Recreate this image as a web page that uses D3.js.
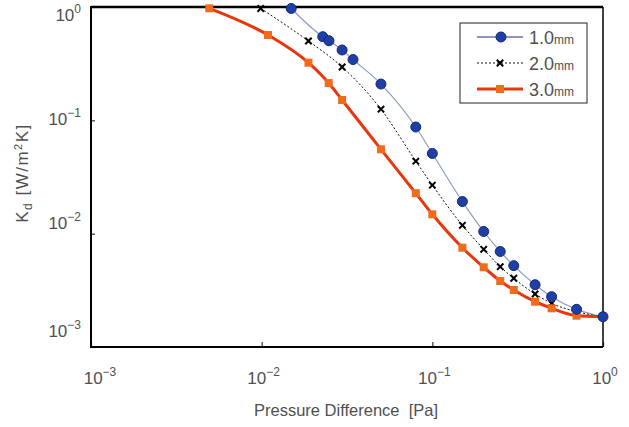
<!DOCTYPE html>
<html>
<head>
<meta charset="utf-8">
<script src="https://cdn.jsdelivr.net/npm/d3@7"></script>
<style>
  html, body { margin: 0; padding: 0; background: #fff; }
  svg { display: block; font-family: "Liberation Sans", Arial, sans-serif; }
</style>
</head>
<body>
<svg id="chart" width="629" height="427"></svg>
<script>
// ---- data ----
const seriesNames = ["1.0", "2.0", "3.0"];
const seriesUnit = "mm";
const x1 = [0.0149, 0.0228, 0.0248, 0.0296, 0.0343, 0.05, 0.08, 0.1, 0.15, 0.2, 0.25, 0.3, 0.4, 0.5, 0.7, 1.0];
const y1 = [0.97, 0.547, 0.504, 0.4175, 0.344, 0.209, 0.0873, 0.051, 0.0192, 0.01045, 0.00696, 0.00522, 0.003545, 0.00278, 0.00215, 0.00185];
const x2 = [0.00987, 0.0188, 0.0296, 0.05, 0.08, 0.1, 0.15, 0.2, 0.25, 0.3, 0.4, 0.5, 0.7, 1.0];
const y2 = [0.97, 0.501, 0.2955, 0.1254, 0.0436, 0.0268, 0.01185, 0.00728, 0.00511, 0.00404, 0.002935, 0.00243, 0.00205, 0.00185];
const x3 = [0.00493, 0.0109, 0.0188, 0.0247, 0.0296, 0.05, 0.08, 0.1, 0.15, 0.2, 0.25, 0.3, 0.4, 0.5, 0.7, 1.0];
const y3 = [0.974, 0.566, 0.3224, 0.2131, 0.1511, 0.0555, 0.02275, 0.01482, 0.00752, 0.00505, 0.003823, 0.003184, 0.00251, 0.002195, 0.00189, 0.00185];
const xTickExps = [-3, -2, -1, 0];
const yTickExps = [-3, -2, -1, 0];
const xTitle = "Pressure Difference  [Pa]";

// ---- layout ----
const svg = d3.select("#chart");
const L = 91, R = 603, T = 7, B = 347;
const x = d3.scaleLog().domain([1e-3, 1]).range([L, R]);
const y = d3.scaleLog().domain([1e-3, 1]).range([B, T]);
const textColor = "#505050";

// ticks (inner)
const gx = svg.append("g").attr("transform", `translate(0,${B})`)
  .call(d3.axisBottom(x).tickValues(xTickExps.map(e => Math.pow(10, e))).tickSize(-5).tickFormat(""));
const gy = svg.append("g").attr("transform", `translate(${L},0)`)
  .call(d3.axisLeft(y).tickValues(yTickExps.map(e => Math.pow(10, e))).tickSize(-4).tickFormat(""));
[gx, gy].forEach(g => {
  g.select(".domain").remove();
  g.selectAll(".tick line").attr("stroke", "#333").attr("stroke-width", 1.2);
});

// frame
svg.append("line").attr("x1", L).attr("x2", R).attr("y1", T).attr("y2", T).attr("stroke", "#000").attr("stroke-width", 2.5);
svg.append("line").attr("x1", R).attr("x2", R).attr("y1", T).attr("y2", B).attr("stroke", "#000").attr("stroke-width", 1.5);
svg.append("line").attr("x1", L).attr("x2", R).attr("y1", B).attr("y2", B).attr("stroke", "#000").attr("stroke-width", 2);
svg.append("line").attr("x1", L).attr("x2", L).attr("y1", T - 1).attr("y2", B + 1).attr("stroke", "#000").attr("stroke-width", 2);

// tick labels
xTickExps.forEach(e => {
  const t = svg.append("text").attr("x", x(Math.pow(10, e)) + (e === -3 ? 9 : 2)).attr("y", 384)
    .attr("text-anchor", "middle").attr("fill", textColor).attr("font-size", 17);
  t.append("tspan").text("10");
  t.append("tspan").attr("dy", -8).attr("font-size", 12).text(String(e).replace("-", "\u2212"));
});
const yLabelOffsets = { "0": 14, "-1": 5, "-2": -5, "-3": -10 };
yTickExps.forEach(e => {
  const t = svg.append("text").attr("x", 81).attr("y", y(Math.pow(10, e)) + yLabelOffsets[String(e)])
    .attr("text-anchor", "end").attr("fill", textColor).attr("font-size", 17);
  t.append("tspan").text("10");
  t.append("tspan").attr("dy", -8).attr("font-size", 12).text(String(e).replace("-", "\u2212"));
});

// axis titles
svg.append("text").attr("x", 346).attr("y", 416).attr("text-anchor", "middle")
  .attr("fill", textColor).attr("font-size", 16.5).attr("xml:space", "preserve").style("white-space", "pre").text(xTitle);
const yt = svg.append("text").attr("transform", "translate(28,173) rotate(-90)")
  .attr("text-anchor", "middle").attr("fill", textColor).attr("font-size", 17).attr("letter-spacing", 1.5);
yt.append("tspan").text("K");
yt.append("tspan").attr("dy", 4).attr("font-size", 12).text("d");
yt.append("tspan").attr("dy", -4).text(" [W/m");
yt.append("tspan").attr("dy", -6).attr("font-size", 11).text("2");
yt.append("tspan").attr("dy", 6).text("K]");

// series
const line = d3.line().x(d => x(d[0])).y(d => y(d[1])).curve(d3.curveMonotoneX);
const d1 = x1.map((v, i) => [v, y1[i]]);
const d2 = x2.map((v, i) => [v, y2[i]]);
const d3d = x3.map((v, i) => [v, y3[i]]);

svg.append("path").datum(d1).attr("d", line).attr("fill", "none").attr("stroke", "#8c9cc0").attr("stroke-width", 1.2);
svg.append("path").datum(d2).attr("d", line).attr("fill", "none").attr("stroke", "#111").attr("stroke-width", 1).attr("stroke-dasharray", "2,2");
svg.append("path").datum(d3d).attr("d", line).attr("fill", "none").attr("stroke", "#e8360e").attr("stroke-width", 3);

function circleMarker(g, cx, cy) {
  g.append("circle").attr("cx", cx).attr("cy", cy).attr("r", 5).attr("fill", "#1d3fa6").attr("stroke", "#13287a").attr("stroke-width", 1);
}
function crossMarker(g, cx, cy) {
  const s = 3.2;
  g.append("path").attr("d", `M${cx - s},${cy - s}L${cx + s},${cy + s}M${cx - s},${cy + s}L${cx + s},${cy - s}`)
    .attr("stroke", "#000").attr("stroke-width", 2);
}
function squareMarker(g, cx, cy) {
  g.append("rect").attr("x", cx - 4).attr("y", cy - 4).attr("width", 8).attr("height", 8).attr("fill", "#f26a1b");
}

const m1 = svg.append("g"), m2 = svg.append("g"), m3 = svg.append("g");
d3d.forEach(d => squareMarker(m3, x(d[0]), y(d[1])));
d2.forEach(d => crossMarker(m2, x(d[0]), y(d[1])));
d1.forEach(d => circleMarker(m1, x(d[0]), y(d[1])));
m1.raise();

// legend
const lg = svg.append("g");
lg.append("rect").attr("x", 460).attr("y", 23).attr("width", 127).attr("height", 80)
  .attr("fill", "#fff").attr("stroke", "#222").attr("stroke-width", 1);
const ly = [37, 63, 89];
lg.append("line").attr("x1", 477).attr("x2", 523).attr("y1", ly[0]).attr("y2", ly[0]).attr("stroke", "#1a2a80").attr("stroke-width", 1.2);
circleMarker(lg, 501, ly[0]);
lg.append("line").attr("x1", 477).attr("x2", 523).attr("y1", ly[1]).attr("y2", ly[1]).attr("stroke", "#111").attr("stroke-width", 1).attr("stroke-dasharray", "2,2");
crossMarker(lg, 500, ly[1]);
lg.append("line").attr("x1", 477).attr("x2", 523).attr("y1", ly[2]).attr("y2", ly[2]).attr("stroke", "#e8360e").attr("stroke-width", 3);
squareMarker(lg, 500, ly[2]);
seriesNames.forEach((n, i) => {
  const t = lg.append("text").attr("x", 529).attr("y", ly[i] + 7).attr("fill", textColor).attr("font-size", 18);
  t.append("tspan").text(n);
  t.append("tspan").attr("font-size", 12).text(seriesUnit);
});
</script>
</body>
</html>
